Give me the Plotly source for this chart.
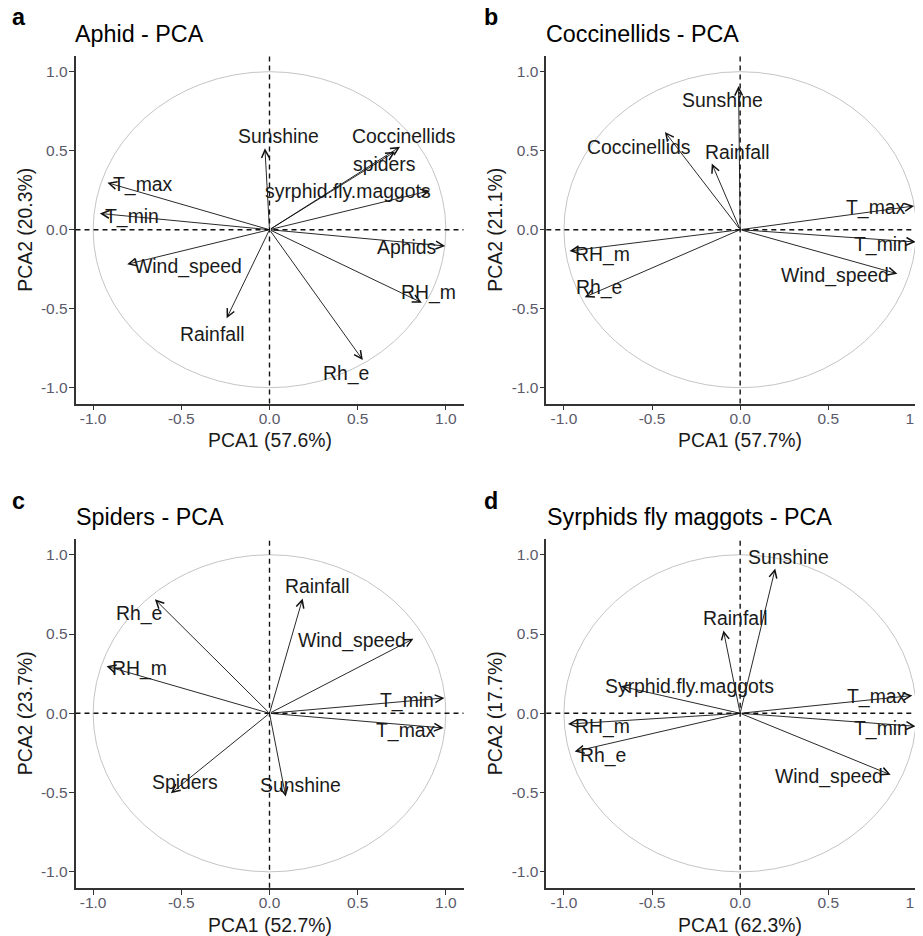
import plotly.graph_objects as go

# ---------------- data (loadings) ----------------
a_vars = ["Sunshine", "Coccinellids", "spiders", "syrphid.fly.maggots", "Aphids",
          "RH_m", "Rh_e", "Rainfall", "Wind_speed", "T_min", "T_max"]
a_pc1 = [-0.026, 0.740, 0.712, 0.910, 0.996, 0.864, 0.529, -0.243, -0.807, -0.962, -0.919]
a_pc2 = [0.515, 0.525, 0.494, 0.247, -0.103, -0.462, -0.825, -0.561, -0.219, 0.103, 0.297]
a_lab_x = [0.050, 0.757, 0.652, 0.445, 0.778, 0.900, 0.434, -0.325, -0.463, -0.777, -0.716]
a_lab_y = [0.591, 0.591, 0.416, 0.247, -0.110, -0.395, -0.911, -0.658, -0.236, 0.086, 0.287]

b_vars = ["Sunshine", "Coccinellids", "Rainfall", "T_max", "T_min", "Wind_speed", "RH_m", "Rh_e"]
b_pc1 = [-0.009, -0.427, -0.161, 0.987, 0.996, 0.892, -0.968, -0.882]
b_pc2 = [0.909, 0.619, 0.419, 0.150, -0.078, -0.279, -0.135, -0.427]
b_lab_x = [-0.098, -0.578, -0.017, 0.769, 0.797, 0.539, -0.783, -0.800]
b_lab_y = [0.822, 0.522, 0.493, 0.142, -0.091, -0.290, -0.154, -0.366]

c_vars = ["Rainfall", "Rh_e", "Wind_speed", "RH_m", "T_min", "T_max", "Spiders", "Sunshine"]
c_pc1 = [0.188, -0.650, 0.816, -0.924, 0.992, 0.987, -0.559, 0.092]
c_pc2 = [0.724, 0.719, 0.470, 0.297, 0.097, -0.093, -0.504, -0.525]
c_lab_x = [0.270, -0.741, 0.468, -0.735, 0.781, 0.775, -0.478, 0.175]
c_lab_y = [0.800, 0.627, 0.462, 0.285, 0.082, -0.108, -0.432, -0.454]

d_vars = ["Sunshine", "Rainfall", "Syrphid.fly.maggots", "T_max", "T_min", "Wind_speed", "RH_m", "Rh_e"]
d_pc1 = [0.199, -0.095, -0.677, 0.977, 0.996, 0.854, -0.977, -0.939]
d_pc2 = [0.913, 0.523, 0.171, 0.112, -0.082, -0.388, -0.068, -0.241]
d_lab_x = [0.277, -0.025, -0.287, 0.778, 0.797, 0.505, -0.783, -0.781]
d_lab_y = [0.989, 0.601, 0.173, 0.103, -0.095, -0.397, -0.084, -0.264]

panel_tags = ["a", "b", "c", "d"]
panel_titles = ["Aphid - PCA", "Coccinellids - PCA", "Spiders - PCA", "Syrphids fly maggots - PCA"]
pc1_titles = ["PCA1 (57.6%)", "PCA1 (57.7%)", "PCA1 (52.7%)", "PCA1 (62.3%)"]
pc2_titles = ["PCA2 (20.3%)", "PCA2 (21.1%)", "PCA2 (23.7%)", "PCA2 (17.7%)"]

tick_vals = [-1.0, -0.5, 0.0, 0.5, 1.0]
tick_text = ["-1.0", "-0.5", "0.0", "0.5", "1.0"]

# ---------------- layout helpers ----------------
# The page body has an 8px margin, so the figure is drawn 8px in from the corner.
OFF = 8
W, H = 923 - OFF, 936 - OFF
FONT = "Liberation Sans, Arial, Helvetica, sans-serif"
BASE = 19.4


def px(x):
    return (x - OFF) / W


def py(y):
    return 1 - (y - OFF) / H


panels = [
    (a_vars, a_pc1, a_pc2, a_lab_x, a_lab_y),
    (b_vars, b_pc1, b_pc2, b_lab_x, b_lab_y),
    (c_vars, c_pc1, c_pc2, c_lab_x, c_lab_y),
    (d_vars, d_pc1, d_pc2, d_lab_x, d_lab_y),
]

# pixel geometry of each panel (window coordinates)
geom = [
    dict(l=75.5, r=463.5, t=55.9, b=403.5, xr=[-1.1, 1.1]),
    dict(l=546.3, r=923.0, t=55.9, b=403.5, xr=[-1.1, 1.0375]),
    dict(l=75.5, r=463.5, t=538.9, b=887.7, xr=[-1.1, 1.1]),
    dict(l=546.3, r=923.0, t=538.9, b=887.7, xr=[-1.1, 1.0375]),
]

fig = go.Figure()
annotations = []
shapes = []
layout_axes = {}

for i, (vars_, pc1, pc2, lx, ly) in enumerate(panels):
    n = i + 1
    xname = "x" if n == 1 else f"x{n}"
    yname = "y" if n == 1 else f"y{n}"
    xkey = "xaxis" if n == 1 else f"xaxis{n}"
    ykey = "yaxis" if n == 1 else f"yaxis{n}"
    g = geom[i]

    axis_common = dict(
        tickvals=tick_vals, ticktext=tick_text,
        ticks="outside", ticklen=5, tickwidth=1.2, tickcolor="#333333",
        showline=True, linecolor="#333333", linewidth=1.6,
        showgrid=False, zeroline=False, automargin=False,
        tickfont=dict(family=FONT, size=15.5, color="#5a5a6a"),
        ticklabeloverflow="allow",
    )
    layout_axes[xkey] = dict(axis_common, domain=[px(g["l"]), px(g["r"])],
                             range=g["xr"], anchor=yname, ticklabelstandoff=-5)
    layout_axes[ykey] = dict(axis_common, domain=[py(g["b"]), py(g["t"])],
                             range=[-1.1, 1.1], anchor=xname, ticklabelstandoff=-2)

    # invisible points at the arrow tips (keep subplot + hover)
    fig.add_trace(go.Scatter(x=pc1, y=pc2, mode="markers", xaxis=xname, yaxis=yname,
                             marker=dict(size=6, opacity=0), hovertext=vars_,
                             hoverinfo="text", showlegend=False))

    # unit circle and dashed reference lines
    shapes.append(dict(type="circle", xref=xname, yref=yname, x0=-1, y0=-1, x1=1, y1=1,
                       line=dict(color="#c4c4c4", width=1), layer="below"))
    shapes.append(dict(type="line", xref=xname, yref=f"{yname} domain", x0=0, x1=0, y0=0, y1=1,
                       line=dict(color="#111111", width=1.4, dash="5px,4px")))
    shapes.append(dict(type="line", xref=f"{xname} domain", yref=yname, x0=0, x1=1, y0=0, y1=0,
                       line=dict(color="#111111", width=1.4, dash="5px,4px")))

    # arrows
    for x1, y1 in zip(pc1, pc2):
        annotations.append(dict(xref=xname, yref=yname, axref=xname, ayref=yname,
                                x=x1, y=y1, ax=0, ay=0, text="", showarrow=True,
                                arrowhead=5, arrowsize=1.7, arrowwidth=0.9,
                                arrowcolor="#111111", standoff=0, startstandoff=0))
    # labels
    for name, tx, ty in zip(vars_, lx, ly):
        annotations.append(dict(xref=xname, yref=yname, x=tx, y=ty, text=name,
                                showarrow=False, xanchor="center", yanchor="middle",
                                font=dict(family=FONT, size=BASE, color="#1a1a1a")))

# titles, tags, axis titles (window pixel positions)
tag_pos = [(10, 17.5), (481.5, 17.5), (10, 500.5), (482.5, 500.5)]
title_pos = [(73, 34.3), (544, 33.6), (74, 517.0), (544.5, 517.0)]
xt_pos = [(269.5, 439.8), (740.3, 439.8), (269.5, 924.7), (740.3, 924.7)]
yt_pos = [(25, 229.7), (495, 229.7), (25, 713.3), (495, 713.3)]

for i in range(4):
    annotations.append(dict(xref="paper", yref="paper", x=px(tag_pos[i][0]), y=py(tag_pos[i][1]),
                            text=f"<b>{panel_tags[i]}</b>", showarrow=False,
                            xanchor="left", yanchor="middle",
                            font=dict(family=FONT, size=23.3, color="#000000")))
    annotations.append(dict(xref="paper", yref="paper", x=px(title_pos[i][0]), y=py(title_pos[i][1]),
                            text=panel_titles[i], showarrow=False,
                            xanchor="left", yanchor="middle",
                            font=dict(family=FONT, size=23.3, color="#000000")))
    annotations.append(dict(xref="paper", yref="paper", x=px(xt_pos[i][0]), y=py(xt_pos[i][1]),
                            text=pc1_titles[i], showarrow=False,
                            xanchor="center", yanchor="middle",
                            font=dict(family=FONT, size=BASE, color="#1a1a1a")))
    annotations.append(dict(xref="paper", yref="paper", x=px(yt_pos[i][0]), y=py(yt_pos[i][1]),
                            text=pc2_titles[i], showarrow=False, textangle=-90,
                            xanchor="center", yanchor="middle",
                            font=dict(family=FONT, size=BASE, color="#1a1a1a")))

fig.update_layout(
    width=W, height=H,
    margin=dict(l=0, r=0, t=0, b=0),
    paper_bgcolor="white", plot_bgcolor="white",
    showlegend=False,
    font=dict(family=FONT),
    annotations=annotations,
    shapes=shapes,
    **layout_axes,
)

fig.write_html("out.html")
